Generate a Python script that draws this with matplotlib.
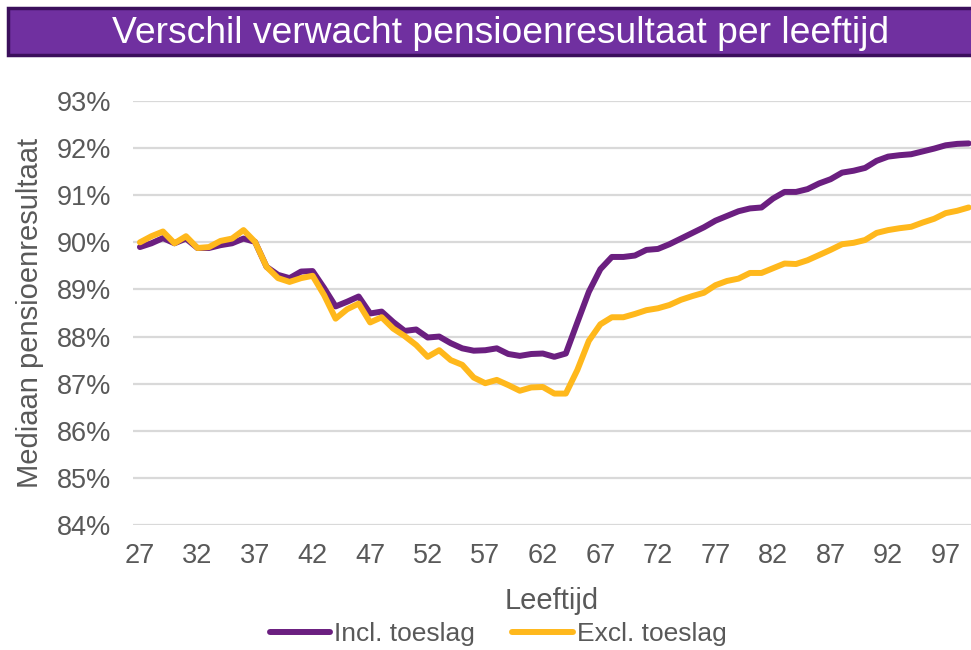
import matplotlib.pyplot as plt
from matplotlib.patches import Rectangle
from matplotlib.ticker import FuncFormatter

plt.rcParams['font.family'] = ['Liberation Sans', 'DejaVu Sans']

# data: ages 27..99
ages = list(range(27, 100))
incl = [89.90, 89.98, 90.09, 89.98, 90.08, 89.88, 89.88, 89.94, 89.98, 90.08,
        90.01, 89.48, 89.31, 89.24, 89.38, 89.39, 89.03, 88.64, 88.74, 88.85,
        88.49, 88.53, 88.31, 88.12, 88.15, 87.98, 88.00, 87.86, 87.75, 87.70,
        87.71, 87.75, 87.63, 87.59, 87.63, 87.64, 87.57, 87.64, 88.30, 88.95,
        89.43, 89.69, 89.69, 89.72, 89.84, 89.86, 89.96, 90.08, 90.20, 90.32,
        90.46, 90.56, 90.66, 90.72, 90.74, 90.93, 91.07, 91.07, 91.13, 91.25,
        91.34, 91.48, 91.52, 91.58, 91.73, 91.82, 91.85, 91.87, 91.93, 91.99,
        92.06, 92.09, 92.10]
excl = [90.00, 90.13, 90.23, 89.98, 90.13, 89.88, 89.90, 90.03, 90.08, 90.26,
        90.01, 89.48, 89.24, 89.16, 89.24, 89.29, 88.88, 88.38, 88.58, 88.70,
        88.30, 88.41, 88.17, 88.01, 87.82, 87.57, 87.71, 87.50, 87.40, 87.13,
        87.01, 87.08, 86.97, 86.85, 86.92, 86.93, 86.79, 86.79, 87.29, 87.91,
        88.26, 88.41, 88.41, 88.48, 88.56, 88.60, 88.67, 88.78, 88.86, 88.93,
        89.09, 89.18, 89.23, 89.35, 89.35, 89.45, 89.55, 89.54, 89.62, 89.73,
        89.84, 89.96, 89.99, 90.05, 90.20, 90.26, 90.30, 90.33, 90.42, 90.50,
        90.62, 90.67, 90.74]
x_ticks = list(range(27, 98, 5))
y_ticks = list(range(84, 94))

purple = '#6B1F80'
yellow = '#FFB81C'
grey_text = '#595959'

fig = plt.figure(figsize=(9.71, 6.5), dpi=100)

# title bar
bar = Rectangle((0.008, 0.916), 1.0, 0.071, transform=fig.transFigure,
                facecolor='#7030A0', edgecolor='#3B0F5C', linewidth=2.5)
fig.patches.append(bar)
fig.text(0.515, 0.949, 'Verschil verwacht pensioenresultaat per leeftijd',
         color='white', fontsize=26.8, ha='center', va='center')

ax = fig.add_axes([0.137, 0.1923, 0.863, 0.6523])
ax.plot(ages, incl, color=purple, lw=4.3, label='Incl. toeslag',
        solid_joinstyle='round', solid_capstyle='round')
ax.plot(ages, excl, color=yellow, lw=4.3, label='Excl. toeslag',
        solid_joinstyle='round', solid_capstyle='round')

ax.set_xlim(26.4, 99.2)
ax.set_ylim(84, 93)
ax.set_xticks(x_ticks)
ax.set_yticks(y_ticks)
ax.yaxis.set_major_formatter(FuncFormatter(lambda v, p: f'{v:.0f}%'))
ax.grid(axis='y', color='#D9D9D9', lw=1.6)
ax.set_axisbelow(True)
for s in ax.spines.values():
    s.set_visible(False)
ax.tick_params(length=0, labelsize=19.5, colors=grey_text)
ax.tick_params(axis='x', pad=13)
ax.tick_params(axis='y', pad=16)

ax.set_xlabel('Leeftijd', fontsize=21, color=grey_text, labelpad=13)
ax.set_ylabel('Mediaan pensioenresultaat', fontsize=21, color=grey_text, labelpad=9)

fig.legend(loc='center', bbox_to_anchor=(0.513, 0.025), ncol=2, frameon=False,
           fontsize=19, handlelength=2.3, handletextpad=0.15, columnspacing=1.4,
           labelcolor=grey_text)

fig.savefig('out.png', dpi=100)
